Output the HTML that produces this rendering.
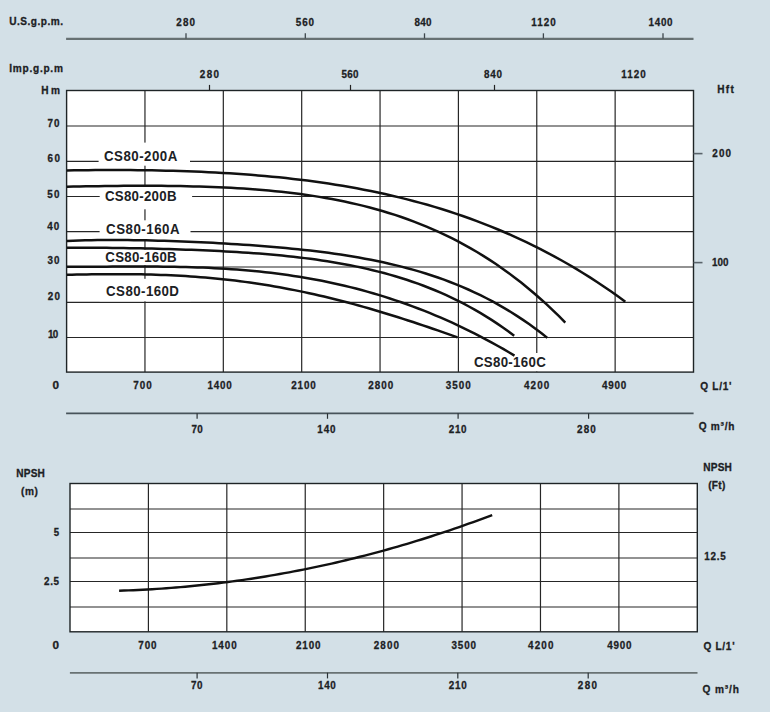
<!DOCTYPE html>
<html><head><meta charset="utf-8"><title>CS80 performance curves</title>
<style>
html,body{margin:0;padding:0;background:#d3e0e7;}
body{width:770px;height:712px;overflow:hidden;}
svg{display:block;}
svg text{font-family:"Liberation Sans",Arial,sans-serif;font-weight:bold;fill:#1c2124;stroke:#1c2124;stroke-width:0.3px;}
svg text.big{stroke:none;}
</style></head>
<body>
<svg width="770" height="712" viewBox="0 0 770 712">
<rect x="0" y="0" width="770" height="712" fill="#d3e0e7"/>
<rect x="66.60" y="90.50" width="626.90" height="281.60" fill="#fff"/>
<line x1="144.96" y1="90.50" x2="144.96" y2="372.10" stroke="#262626" stroke-width="1.2"/>
<line x1="223.32" y1="90.50" x2="223.32" y2="372.10" stroke="#262626" stroke-width="1.2"/>
<line x1="301.69" y1="90.50" x2="301.69" y2="372.10" stroke="#262626" stroke-width="1.2"/>
<line x1="380.05" y1="90.50" x2="380.05" y2="372.10" stroke="#262626" stroke-width="1.2"/>
<line x1="458.41" y1="90.50" x2="458.41" y2="372.10" stroke="#262626" stroke-width="1.2"/>
<line x1="536.77" y1="90.50" x2="536.77" y2="372.10" stroke="#262626" stroke-width="1.2"/>
<line x1="615.14" y1="90.50" x2="615.14" y2="372.10" stroke="#262626" stroke-width="1.2"/>
<line x1="66.60" y1="126.00" x2="693.50" y2="126.00" stroke="#262626" stroke-width="1.2"/>
<line x1="66.60" y1="161.30" x2="693.50" y2="161.30" stroke="#262626" stroke-width="1.2"/>
<line x1="66.60" y1="196.50" x2="693.50" y2="196.50" stroke="#262626" stroke-width="1.2"/>
<line x1="66.60" y1="231.60" x2="693.50" y2="231.60" stroke="#262626" stroke-width="1.2"/>
<line x1="66.60" y1="267.00" x2="693.50" y2="267.00" stroke="#262626" stroke-width="1.2"/>
<line x1="66.60" y1="302.30" x2="693.50" y2="302.30" stroke="#262626" stroke-width="1.2"/>
<line x1="66.60" y1="337.50" x2="693.50" y2="337.50" stroke="#262626" stroke-width="1.2"/>
<rect x="98.60" y="142.60" width="91.40" height="23.10" fill="#fff"/>
<rect x="99.70" y="186.00" width="92.40" height="23.30" fill="#fff"/>
<rect x="99.60" y="220.30" width="90.90" height="18.70" fill="#fff"/>
<rect x="99.60" y="249.70" width="90.90" height="15.50" fill="#fff"/>
<rect x="99.60" y="278.80" width="90.90" height="22.50" fill="#fff"/>
<rect x="467.00" y="353.00" width="85.00" height="18.50" fill="#fff"/>
<rect x="66.60" y="90.50" width="626.90" height="281.60" fill="none" stroke="#1e2426" stroke-width="1.4"/>
<path d="M67.00,170.43 L74.07,170.33 L81.13,170.24 L88.20,170.17 L95.27,170.11 L102.34,170.08 L109.40,170.06 L116.47,170.06 L123.54,170.08 L130.60,170.12 L137.67,170.18 L144.74,170.26 L151.81,170.37 L158.87,170.50 L165.94,170.65 L173.01,170.84 L180.07,171.04 L187.14,171.28 L194.21,171.54 L201.27,171.83 L208.34,172.16 L215.41,172.51 L222.48,172.90 L229.54,173.33 L236.61,173.78 L243.68,174.28 L250.74,174.81 L257.81,175.39 L264.88,176.00 L271.95,176.66 L279.01,177.35 L286.08,178.10 L293.15,178.89 L300.21,179.72 L307.28,180.61 L314.35,181.55 L321.42,182.54 L328.48,183.58 L335.55,184.68 L342.62,185.84 L349.68,187.05 L356.75,188.33 L363.82,189.67 L370.88,191.07 L377.95,192.54 L385.02,194.07 L392.09,195.68 L399.15,197.36 L406.22,199.11 L413.29,200.94 L420.35,202.84 L427.42,204.82 L434.49,206.89 L441.56,209.03 L448.62,211.27 L455.69,213.59 L462.76,216.00 L469.82,218.50 L476.89,221.10 L483.96,223.80 L491.03,226.59 L498.09,229.49 L505.16,232.48 L512.23,235.59 L519.29,238.80 L526.36,242.12 L533.43,245.56 L540.49,249.11 L547.56,252.78 L554.63,256.57 L561.70,260.49 L568.76,264.53 L575.83,268.69 L582.90,272.99 L589.96,277.43 L597.03,282.00 L604.10,286.71 L611.17,291.56 L618.23,296.56 L625.30,301.70" fill="none" stroke="#111" stroke-width="2.5" stroke-linecap="butt"/>
<path d="M67.00,186.76 L73.31,186.61 L79.62,186.48 L85.92,186.36 L92.23,186.25 L98.54,186.15 L104.85,186.06 L111.15,185.98 L117.46,185.92 L123.77,185.86 L130.08,185.83 L136.38,185.80 L142.69,185.80 L149.00,185.80 L155.31,185.83 L161.61,185.87 L167.92,185.93 L174.23,186.01 L180.54,186.11 L186.84,186.23 L193.15,186.38 L199.46,186.55 L205.77,186.75 L212.07,186.98 L218.38,187.23 L224.69,187.52 L231.00,187.84 L237.31,188.19 L243.61,188.58 L249.92,189.01 L256.23,189.48 L262.54,189.99 L268.84,190.54 L275.15,191.15 L281.46,191.80 L287.77,192.50 L294.07,193.26 L300.38,194.07 L306.69,194.94 L313.00,195.87 L319.30,196.87 L325.61,197.94 L331.92,199.07 L338.23,200.28 L344.53,201.56 L350.84,202.92 L357.15,204.37 L363.46,205.90 L369.76,207.51 L376.07,209.22 L382.38,211.03 L388.69,212.93 L394.99,214.93 L401.30,217.04 L407.61,219.26 L413.92,221.60 L420.23,224.05 L426.53,226.62 L432.84,229.32 L439.15,232.14 L445.46,235.10 L451.76,238.19 L458.07,241.43 L464.38,244.81 L470.69,248.35 L476.99,252.03 L483.30,255.88 L489.61,259.89 L495.92,264.07 L502.22,268.42 L508.53,272.95 L514.84,277.66 L521.15,282.56 L527.45,287.66 L533.76,292.95 L540.07,298.44 L546.38,304.14 L552.68,310.06 L558.99,316.19 L565.30,322.55" fill="none" stroke="#111" stroke-width="2.5" stroke-linecap="butt"/>
<path d="M67.00,240.94 L73.08,240.69 L79.16,240.49 L85.24,240.32 L91.32,240.19 L97.40,240.10 L103.48,240.03 L109.56,240.00 L115.64,240.00 L121.72,240.02 L127.80,240.07 L133.88,240.14 L139.96,240.24 L146.04,240.36 L152.12,240.49 L158.20,240.65 L164.28,240.83 L170.36,241.02 L176.44,241.23 L182.52,241.46 L188.59,241.71 L194.67,241.97 L200.75,242.25 L206.83,242.54 L212.91,242.85 L218.99,243.18 L225.07,243.52 L231.15,243.89 L237.23,244.27 L243.31,244.66 L249.39,245.08 L255.47,245.52 L261.55,245.98 L267.63,246.46 L273.71,246.97 L279.79,247.50 L285.87,248.06 L291.95,248.64 L298.03,249.26 L304.11,249.91 L310.19,250.59 L316.27,251.31 L322.35,252.07 L328.43,252.86 L334.51,253.70 L340.59,254.59 L346.67,255.53 L352.75,256.51 L358.83,257.55 L364.91,258.65 L370.99,259.80 L377.07,261.03 L383.15,262.31 L389.23,263.67 L395.31,265.10 L401.39,266.61 L407.47,268.20 L413.55,269.88 L419.63,271.64 L425.71,273.50 L431.78,275.46 L437.86,277.52 L443.94,279.68 L450.02,281.96 L456.10,284.36 L462.18,286.87 L468.26,289.52 L474.34,292.29 L480.42,295.20 L486.50,298.25 L492.58,301.45 L498.66,304.81 L504.74,308.32 L510.82,311.99 L516.90,315.84 L522.98,319.87 L529.06,324.07 L535.14,328.47 L541.22,333.06 L547.30,337.86" fill="none" stroke="#111" stroke-width="2.5" stroke-linecap="butt"/>
<path d="M67.00,247.73 L72.66,247.70 L78.32,247.69 L83.98,247.69 L89.64,247.71 L95.30,247.73 L100.96,247.77 L106.63,247.83 L112.29,247.89 L117.95,247.96 L123.61,248.05 L129.27,248.14 L134.93,248.24 L140.59,248.36 L146.25,248.48 L151.91,248.61 L157.57,248.75 L163.23,248.91 L168.89,249.07 L174.55,249.25 L180.22,249.43 L185.88,249.63 L191.54,249.84 L197.20,250.06 L202.86,250.30 L208.52,250.55 L214.18,250.81 L219.84,251.09 L225.50,251.39 L231.16,251.71 L236.82,252.05 L242.48,252.41 L248.14,252.78 L253.81,253.19 L259.47,253.61 L265.13,254.07 L270.79,254.55 L276.45,255.06 L282.11,255.60 L287.77,256.17 L293.43,256.78 L299.09,257.43 L304.75,258.12 L310.41,258.84 L316.07,259.61 L321.73,260.42 L327.39,261.28 L333.06,262.20 L338.72,263.16 L344.38,264.18 L350.04,265.25 L355.70,266.39 L361.36,267.59 L367.02,268.85 L372.68,270.19 L378.34,271.59 L384.00,273.07 L389.66,274.63 L395.32,276.27 L400.98,277.99 L406.65,279.80 L412.31,281.70 L417.97,283.69 L423.63,285.79 L429.29,287.98 L434.95,290.28 L440.61,292.69 L446.27,295.21 L451.93,297.84 L457.59,300.60 L463.25,303.48 L468.91,306.49 L474.57,309.63 L480.24,312.92 L485.90,316.34 L491.56,319.90 L497.22,323.62 L502.88,327.50 L508.54,331.53 L514.20,335.73" fill="none" stroke="#111" stroke-width="2.5" stroke-linecap="butt"/>
<path d="M67.00,266.77 L72.66,266.77 L78.33,266.76 L83.99,266.74 L89.66,266.72 L95.32,266.69 L100.99,266.66 L106.65,266.63 L112.32,266.59 L117.98,266.57 L123.65,266.54 L129.31,266.52 L134.97,266.51 L140.64,266.51 L146.30,266.52 L151.97,266.54 L157.63,266.58 L163.30,266.64 L168.96,266.71 L174.63,266.80 L180.29,266.91 L185.96,267.05 L191.62,267.21 L197.28,267.40 L202.95,267.61 L208.61,267.86 L214.28,268.13 L219.94,268.43 L225.61,268.77 L231.27,269.14 L236.94,269.55 L242.60,270.00 L248.27,270.48 L253.93,271.01 L259.59,271.57 L265.26,272.18 L270.92,272.83 L276.59,273.52 L282.25,274.26 L287.92,275.05 L293.58,275.89 L299.25,276.77 L304.91,277.71 L310.58,278.70 L316.24,279.74 L321.91,280.83 L327.57,281.98 L333.23,283.18 L338.90,284.44 L344.56,285.76 L350.23,287.13 L355.89,288.57 L361.56,290.06 L367.22,291.61 L372.89,293.23 L378.55,294.91 L384.22,296.65 L389.88,298.46 L395.54,300.33 L401.21,302.27 L406.87,304.27 L412.54,306.34 L418.20,308.47 L423.87,310.68 L429.53,312.95 L435.20,315.29 L440.86,317.70 L446.53,320.18 L452.19,322.73 L457.85,325.36 L463.52,328.05 L469.18,330.82 L474.85,333.66 L480.51,336.57 L486.18,339.56 L491.84,342.61 L497.51,345.75 L503.17,348.95 L508.84,352.23 L514.50,355.59" fill="none" stroke="#111" stroke-width="2.5" stroke-linecap="butt"/>
<path d="M67.00,274.79 L71.94,274.69 L76.89,274.59 L81.83,274.50 L86.77,274.42 L91.72,274.34 L96.66,274.28 L101.60,274.23 L106.54,274.19 L111.49,274.16 L116.43,274.15 L121.37,274.16 L126.32,274.18 L131.26,274.22 L136.20,274.28 L141.15,274.36 L146.09,274.46 L151.03,274.58 L155.97,274.72 L160.92,274.89 L165.86,275.08 L170.80,275.30 L175.75,275.54 L180.69,275.80 L185.63,276.10 L190.58,276.42 L195.52,276.77 L200.46,277.14 L205.41,277.55 L210.35,277.98 L215.29,278.45 L220.23,278.94 L225.18,279.47 L230.12,280.02 L235.06,280.61 L240.01,281.23 L244.95,281.87 L249.89,282.55 L254.84,283.27 L259.78,284.01 L264.72,284.79 L269.66,285.60 L274.61,286.44 L279.55,287.31 L284.49,288.21 L289.44,289.15 L294.38,290.12 L299.32,291.12 L304.27,292.15 L309.21,293.21 L314.15,294.31 L319.09,295.43 L324.04,296.59 L328.98,297.77 L333.92,298.99 L338.87,300.23 L343.81,301.51 L348.75,302.81 L353.70,304.14 L358.64,305.50 L363.58,306.88 L368.53,308.29 L373.47,309.73 L378.41,311.19 L383.35,312.68 L388.30,314.19 L393.24,315.72 L398.18,317.27 L403.13,318.85 L408.07,320.44 L413.01,322.06 L417.96,323.69 L422.90,325.35 L427.84,327.01 L432.78,328.70 L437.73,330.39 L442.67,332.11 L447.61,333.83 L452.56,335.56 L457.50,337.31" fill="none" stroke="#111" stroke-width="2.5" stroke-linecap="butt"/>
<line x1="66.10" y1="38.90" x2="693.50" y2="38.90" stroke="#677173" stroke-width="2.1"/>
<line x1="186.00" y1="33.30" x2="186.00" y2="38.50" stroke="#3e474c" stroke-width="1.3"/>
<line x1="305.30" y1="33.30" x2="305.30" y2="38.50" stroke="#3e474c" stroke-width="1.3"/>
<line x1="424.50" y1="33.30" x2="424.50" y2="38.50" stroke="#3e474c" stroke-width="1.3"/>
<line x1="543.40" y1="33.30" x2="543.40" y2="38.50" stroke="#3e474c" stroke-width="1.3"/>
<line x1="663.00" y1="33.30" x2="663.00" y2="38.50" stroke="#3e474c" stroke-width="1.3"/>
<line x1="209.50" y1="84.90" x2="209.50" y2="90.00" stroke="#222" stroke-width="1.2"/>
<line x1="350.50" y1="84.90" x2="350.50" y2="90.00" stroke="#222" stroke-width="1.2"/>
<line x1="494.50" y1="84.90" x2="494.50" y2="90.00" stroke="#222" stroke-width="1.2"/>
<line x1="66.10" y1="413.35" x2="693.60" y2="413.35" stroke="#47535a" stroke-width="1.6"/>
<line x1="197.10" y1="413.30" x2="197.10" y2="418.80" stroke="#2a3236" stroke-width="1.2"/>
<line x1="327.50" y1="413.30" x2="327.50" y2="418.80" stroke="#2a3236" stroke-width="1.2"/>
<line x1="458.10" y1="413.30" x2="458.10" y2="418.80" stroke="#2a3236" stroke-width="1.2"/>
<line x1="588.60" y1="413.30" x2="588.60" y2="418.80" stroke="#2a3236" stroke-width="1.2"/>
<line x1="693.50" y1="153.60" x2="702.50" y2="153.60" stroke="#59636a" stroke-width="1.6"/>
<line x1="693.50" y1="262.60" x2="702.50" y2="262.60" stroke="#59636a" stroke-width="1.6"/>
<rect x="70.00" y="483.50" width="627.30" height="148.30" fill="#fff"/>
<line x1="148.41" y1="483.50" x2="148.41" y2="631.80" stroke="#262626" stroke-width="1.2"/>
<line x1="226.82" y1="483.50" x2="226.82" y2="631.80" stroke="#262626" stroke-width="1.2"/>
<line x1="305.24" y1="483.50" x2="305.24" y2="631.80" stroke="#262626" stroke-width="1.2"/>
<line x1="383.65" y1="483.50" x2="383.65" y2="631.80" stroke="#262626" stroke-width="1.2"/>
<line x1="462.06" y1="483.50" x2="462.06" y2="631.80" stroke="#262626" stroke-width="1.2"/>
<line x1="540.47" y1="483.50" x2="540.47" y2="631.80" stroke="#262626" stroke-width="1.2"/>
<line x1="618.89" y1="483.50" x2="618.89" y2="631.80" stroke="#262626" stroke-width="1.2"/>
<line x1="70.00" y1="509.00" x2="697.30" y2="509.00" stroke="#262626" stroke-width="1.2"/>
<line x1="70.00" y1="532.50" x2="697.30" y2="532.50" stroke="#262626" stroke-width="1.2"/>
<line x1="70.00" y1="558.00" x2="697.30" y2="558.00" stroke="#262626" stroke-width="1.2"/>
<line x1="70.00" y1="581.50" x2="697.30" y2="581.50" stroke="#262626" stroke-width="1.2"/>
<line x1="70.00" y1="607.00" x2="697.30" y2="607.00" stroke="#262626" stroke-width="1.2"/>
<rect x="70.00" y="483.50" width="627.30" height="148.30" fill="none" stroke="#1e2426" stroke-width="1.4"/>
<path d="M119.10,590.73 L123.82,590.57 L128.55,590.40 L133.27,590.20 L137.99,589.98 L142.71,589.74 L147.44,589.48 L152.16,589.20 L156.88,588.91 L161.61,588.59 L166.33,588.25 L171.05,587.89 L175.77,587.51 L180.50,587.11 L185.22,586.69 L189.94,586.25 L194.66,585.79 L199.39,585.31 L204.11,584.81 L208.83,584.29 L213.56,583.75 L218.28,583.19 L223.00,582.61 L227.72,582.01 L232.45,581.38 L237.17,580.74 L241.89,580.08 L246.62,579.39 L251.34,578.69 L256.06,577.96 L260.78,577.22 L265.51,576.45 L270.23,575.66 L274.95,574.86 L279.67,574.03 L284.40,573.18 L289.12,572.31 L293.84,571.42 L298.57,570.51 L303.29,569.58 L308.01,568.63 L312.73,567.65 L317.46,566.66 L322.18,565.64 L326.90,564.61 L331.63,563.55 L336.35,562.47 L341.07,561.38 L345.79,560.26 L350.52,559.12 L355.24,557.96 L359.96,556.77 L364.68,555.57 L369.41,554.35 L374.13,553.10 L378.85,551.83 L383.58,550.55 L388.30,549.24 L393.02,547.91 L397.74,546.56 L402.47,545.18 L407.19,543.79 L411.91,542.37 L416.64,540.94 L421.36,539.48 L426.08,538.00 L430.80,536.50 L435.53,534.98 L440.25,533.44 L444.97,531.87 L449.69,530.29 L454.42,528.68 L459.14,527.05 L463.86,525.40 L468.59,523.73 L473.31,522.04 L478.03,520.32 L482.75,518.58 L487.48,516.83 L492.20,515.05" fill="none" stroke="#111" stroke-width="2.4"/>
<line x1="69.90" y1="672.90" x2="697.50" y2="672.90" stroke="#687273" stroke-width="1.9"/>
<line x1="197.10" y1="672.70" x2="197.10" y2="678.40" stroke="#2a3236" stroke-width="1.2"/>
<line x1="327.50" y1="672.70" x2="327.50" y2="678.40" stroke="#2a3236" stroke-width="1.2"/>
<line x1="457.80" y1="672.70" x2="457.80" y2="678.40" stroke="#2a3236" stroke-width="1.2"/>
<line x1="588.20" y1="672.70" x2="588.20" y2="678.40" stroke="#2a3236" stroke-width="1.2"/>
<text transform="translate(9.13,25.12) scale(0.92,1)" font-size="11" letter-spacing="0.541">U.S.g.p.m.</text>
<text transform="translate(176.32,25.53) scale(0.88,1)" font-size="11.2" letter-spacing="1.328">280</text>
<text transform="translate(295.64,25.90) scale(0.88,1)" font-size="11.2" letter-spacing="1.153">560</text>
<text transform="translate(414.40,25.50) scale(0.88,1)" font-size="11.2" letter-spacing="0.399">840</text>
<text transform="translate(531.34,26.18) scale(0.88,1)" font-size="11.2" letter-spacing="1.143">1120</text>
<text transform="translate(648.38,25.98) scale(0.88,1)" font-size="11.2" letter-spacing="0.882">1400</text>
<text transform="translate(9.32,71.72) scale(0.92,1)" font-size="11" letter-spacing="0.798">Imp.g.p.m</text>
<text transform="translate(199.87,78.02) scale(0.88,1)" font-size="11.2" letter-spacing="1.520">280</text>
<text transform="translate(341.42,77.90) scale(0.88,1)" font-size="11.2" letter-spacing="0.383">560</text>
<text transform="translate(484.05,78.09) scale(0.88,1)" font-size="11.2" letter-spacing="0.910">840</text>
<text transform="translate(621.34,78.18) scale(0.88,1)" font-size="11.2" letter-spacing="1.143">1120</text>
<text transform="translate(41.32,93.60) scale(0.92,1)" font-size="11" letter-spacing="2.697">Hm</text>
<text transform="translate(717.15,92.95) scale(0.92,1)" font-size="11" letter-spacing="1.408">Hft</text>
<text transform="translate(47.57,127.25) scale(0.88,1)" font-size="11.2" letter-spacing="1.039">70</text>
<text transform="translate(47.57,161.78) scale(0.88,1)" font-size="11.2" letter-spacing="1.761">60</text>
<text transform="translate(47.28,197.68) scale(0.88,1)" font-size="11.2" letter-spacing="1.420">50</text>
<text transform="translate(47.31,229.65) scale(0.88,1)" font-size="11.2" letter-spacing="1.223">40</text>
<text transform="translate(47.57,264.12) scale(0.88,1)" font-size="11.2" letter-spacing="1.091">30</text>
<text transform="translate(47.82,300.22) scale(0.88,1)" font-size="11.2" letter-spacing="1.384">20</text>
<text transform="translate(47.96,338.13) scale(0.88,1)" font-size="11.2" letter-spacing="-0.662">10</text>
<text transform="translate(712.32,156.51) scale(0.88,1)" font-size="11.2" letter-spacing="1.328">200</text>
<text transform="translate(711.93,266.03) scale(0.88,1)" font-size="11.2" letter-spacing="0.088">100</text>
<text transform="translate(52.59,389.00) scale(1.05,1)" font-size="11.2" letter-spacing="0.000">0</text>
<text transform="translate(133.28,388.66) scale(0.88,1)" font-size="11.2" letter-spacing="1.179">700</text>
<text transform="translate(207.61,389.32) scale(0.88,1)" font-size="11.2" letter-spacing="0.885">1400</text>
<text transform="translate(291.32,388.84) scale(0.88,1)" font-size="11.2" letter-spacing="0.940">2100</text>
<text transform="translate(368.27,389.00) scale(0.88,1)" font-size="11.2" letter-spacing="1.184">2800</text>
<text transform="translate(445.80,389.01) scale(0.88,1)" font-size="11.2" letter-spacing="1.130">3500</text>
<text transform="translate(524.02,389.29) scale(0.88,1)" font-size="11.2" letter-spacing="1.283">4200</text>
<text transform="translate(601.92,388.63) scale(0.88,1)" font-size="11.2" letter-spacing="0.896">4900</text>
<text transform="translate(700.31,389.64) scale(0.92,1)" font-size="11" letter-spacing="0.741">Q L/1'</text>
<text transform="translate(191.57,433.05) scale(0.88,1)" font-size="11.2" letter-spacing="0.277">70</text>
<text transform="translate(317.34,432.82) scale(0.88,1)" font-size="11.2" letter-spacing="0.969">140</text>
<text transform="translate(448.82,432.73) scale(0.88,1)" font-size="11.2" letter-spacing="0.772">210</text>
<text transform="translate(577.08,433.34) scale(0.88,1)" font-size="11.2" letter-spacing="1.314">280</text>
<text transform="translate(698.64,429.99) scale(0.92,1)" font-size="11" letter-spacing="0.846">Q m&#179;/h</text>
<text class="big" transform="translate(104.00,161.10) scale(0.95,1)" font-size="14" letter-spacing="0.502">CS80-200A</text>
<text class="big" transform="translate(104.94,201.15) scale(0.95,1)" font-size="14" letter-spacing="0.280">CS80-200B</text>
<text class="big" transform="translate(106.09,234.15) scale(0.95,1)" font-size="14" letter-spacing="0.528">CS80-160A</text>
<text class="big" transform="translate(105.37,261.95) scale(0.95,1)" font-size="14" letter-spacing="0.250">CS80-160B</text>
<text class="big" transform="translate(106.09,296.30) scale(0.95,1)" font-size="14" letter-spacing="0.448">CS80-160D</text>
<text class="big" transform="translate(473.88,367.05) scale(0.95,1)" font-size="14" letter-spacing="0.328">CS80-160C</text>
<text transform="translate(16.32,477.48) scale(0.92,1)" font-size="11" letter-spacing="0.174">NPSH</text>
<text transform="translate(20.88,494.90) scale(0.92,1)" font-size="11" letter-spacing="0.756">(m)</text>
<text transform="translate(703.32,470.93) scale(0.92,1)" font-size="11" letter-spacing="0.174">NPSH</text>
<text transform="translate(708.16,488.62) scale(0.92,1)" font-size="11" letter-spacing="0.341">(Ft)</text>
<text transform="translate(53.64,536.29) scale(0.86,1)" font-size="11.2" letter-spacing="0.000">5</text>
<text transform="translate(44.08,585.30) scale(0.88,1)" font-size="11.2" letter-spacing="0.724">2.5</text>
<text transform="translate(704.34,559.80) scale(0.88,1)" font-size="11.2" letter-spacing="0.818">12.5</text>
<text transform="translate(52.59,649.30) scale(1.05,1)" font-size="11.2" letter-spacing="0.000">0</text>
<text transform="translate(138.18,649.04) scale(0.88,1)" font-size="11.2" letter-spacing="1.113">700</text>
<text transform="translate(211.93,648.76) scale(0.88,1)" font-size="11.2" letter-spacing="1.083">1400</text>
<text transform="translate(295.96,648.74) scale(0.88,1)" font-size="11.2" letter-spacing="1.040">2100</text>
<text transform="translate(373.82,649.05) scale(0.88,1)" font-size="11.2" letter-spacing="1.206">2800</text>
<text transform="translate(451.41,649.35) scale(0.88,1)" font-size="11.2" letter-spacing="1.047">3500</text>
<text transform="translate(528.02,648.74) scale(0.88,1)" font-size="11.2" letter-spacing="1.369">4200</text>
<text transform="translate(607.35,648.97) scale(0.88,1)" font-size="11.2" letter-spacing="0.885">4900</text>
<text transform="translate(703.42,649.62) scale(0.92,1)" font-size="11" letter-spacing="0.757">Q L/1'</text>
<text transform="translate(191.01,689.08) scale(0.88,1)" font-size="11.2" letter-spacing="0.698">70</text>
<text transform="translate(317.93,689.09) scale(0.88,1)" font-size="11.2" letter-spacing="0.832">140</text>
<text transform="translate(448.87,689.07) scale(0.88,1)" font-size="11.2" letter-spacing="0.868">210</text>
<text transform="translate(577.87,688.77) scale(0.88,1)" font-size="11.2" letter-spacing="1.520">280</text>
<text transform="translate(702.55,693.06) scale(0.92,1)" font-size="11" letter-spacing="0.969">Q m&#179;/h</text>
</svg>
</body></html>
